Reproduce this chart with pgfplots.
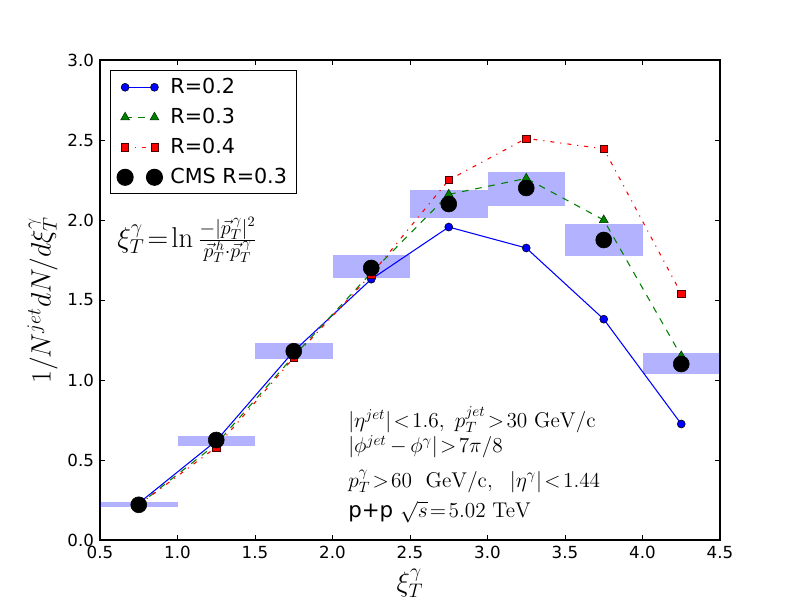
\RequirePackage{fix-cm}
\documentclass[border=0pt]{standalone}
\usepackage[no-math]{fontspec}
\setmainfont{DejaVu Sans}
\usepackage{pgfplots}
\pgfplotsset{compat=1.18}
\definecolor{mplgreen}{rgb}{0,0.5,0}
\thickmuskip=2mu plus 1mu
\medmuskip=3mu plus 1mu
\begin{document}
\begin{tikzpicture}
\useasboundingbox (0,0) rectangle (600pt,450pt);
\begin{axis}[
  at={(75pt,45pt)}, anchor=south west,
  scale only axis, width=465pt, height=360pt,
  xmin=0.5, xmax=4.5, ymin=0, ymax=3.0,
  xtick={0.5,1.0,...,4.5}, ytick={0,0.5,...,3.0},
  axis line style={line width=0.8pt},
  major tick length=4pt,
  every tick/.style={black, line width=0.6pt},
  tick align=inside,
  minor tick num=0,
  /pgf/number format/assume math mode=true,
  /pgf/number format/.cd, fixed, fixed zerofill, precision=1, /pgfplots/.cd,
  ticklabel style={font=\fontsize{12.5}{15}\selectfont},
  xticklabel style={yshift=-1pt},
  yticklabel style={xshift=-1pt},
  xlabel={$\xi_T^\gamma$},
  ylabel={$1/N^{jet}dN/d\xi_T^\gamma$},
  xlabel style={at={(axis description cs:0.5,-0.090)}, anchor=center, font=\fontsize{21}{25}\selectfont},
  ylabel style={at={(axis description cs:-0.0925,0.5)}, anchor=center, font=\fontsize{21}{25}\selectfont},
  legend image code/.code={\draw[mark repeat=2,mark phase=1,#1] plot coordinates {(0pt,0pt) (11pt,0pt) (22pt,0pt)};},
  legend style={at={(axis description cs:0.016,0.979)}, anchor=north west,
    draw=black, line width=0.8pt, font=\fontsize{15.5}{18}\selectfont,
    inner xsep=5pt, inner ysep=4pt, row sep=5.5pt, column sep=4pt,
    nodes={line width=0.6pt}},
  legend cell align=left,
]
% CMS systematic boxes
\addplot[fill=blue, fill opacity=0.3, draw=none, forget plot] coordinates {(0.5,0.205) (1.0,0.205) (1.0,0.24) (0.5,0.24)} -- cycle;
\addplot[fill=blue, fill opacity=0.3, draw=none, forget plot] coordinates {(1.0,0.59) (1.5,0.59) (1.5,0.65) (1.0,0.65)} -- cycle;
\addplot[fill=blue, fill opacity=0.3, draw=none, forget plot] coordinates {(1.5,1.13) (2.0,1.13) (2.0,1.23) (1.5,1.23)} -- cycle;
\addplot[fill=blue, fill opacity=0.3, draw=none, forget plot] coordinates {(2.0,1.64) (2.5,1.64) (2.5,1.78) (2.0,1.78)} -- cycle;
\addplot[fill=blue, fill opacity=0.3, draw=none, forget plot] coordinates {(2.5,2.01) (3.0,2.01) (3.0,2.19) (2.5,2.19)} -- cycle;
\addplot[fill=blue, fill opacity=0.3, draw=none, forget plot] coordinates {(3.0,2.09) (3.5,2.09) (3.5,2.30) (3.0,2.30)} -- cycle;
\addplot[fill=blue, fill opacity=0.3, draw=none, forget plot] coordinates {(3.5,1.775) (4.0,1.775) (4.0,1.975) (3.5,1.975)} -- cycle;
\addplot[fill=blue, fill opacity=0.3, draw=none, forget plot] coordinates {(4.0,1.04) (4.5,1.04) (4.5,1.17) (4.0,1.17)} -- cycle;
% R=0.2
\addplot[blue, line width=0.8pt, mark=*, mark size=3pt, mark options={fill=blue, draw=black, line width=0.4pt, solid}]
 coordinates {(0.75,0.23) (1.25,0.62) (1.75,1.18) (2.25,1.63) (2.75,1.956) (3.25,1.825) (3.75,1.38) (4.25,0.725)};
\addlegendentry{R=0.2}
% R=0.3
\addplot[mplgreen, line width=0.8pt, dash pattern=on 5pt off 5pt, mark=triangle*, mark size=3.8pt, mark options={fill=mplgreen, draw=black!60!mplgreen, line width=0.4pt, solid}]
 coordinates {(0.75,0.22) (1.25,0.60) (1.75,1.15) (2.25,1.67) (2.75,2.16) (3.25,2.26) (3.75,2.0) (4.25,1.15)};
\addlegendentry{R=0.3}
% R=0.4
\addplot[red, line width=0.8pt, dash pattern=on 3pt off 4.5pt on 0.8pt off 4.5pt, mark=square*, mark size=2.7pt, mark options={fill=red, draw=black!70!red, line width=0.4pt, solid}]
 coordinates {(0.75,0.22) (1.25,0.58) (1.75,1.14) (2.25,1.66) (2.75,2.25) (3.25,2.51) (3.75,2.445) (4.25,1.54)};
\addlegendentry{R=0.4}
% CMS
\addplot[only marks, mark=*, mark size=6pt, mark options={fill=black, draw=black}]
 coordinates {(0.75,0.22) (1.25,0.625) (1.75,1.18) (2.25,1.70) (2.75,2.10) (3.25,2.20) (3.75,1.875) (4.25,1.10)};
\addlegendentry{CMS R=0.3}
% annotations
\node[anchor=base west, inner sep=0pt, font=\fontsize{21.5}{25}\selectfont] at (axis cs:0.61,1.83) {$\xi_T^\gamma = \ln\frac{-|\vec{p}_T^{\,\gamma}|^2}{\vec{p}_T^{\,h}\cdot\vec{p}_T^{\,\gamma}}$};
\node[anchor=base west, inner sep=0pt, font=\fontsize{16}{19}\selectfont] at (axis cs:2.10,0.706) {$|\eta^{jet}|<1.6,\ p_T^{jet}>30\ \mathrm{GeV/c}$};
\node[anchor=base west, inner sep=0pt, font=\fontsize{16}{19}\selectfont] at (axis cs:2.10,0.544) {$|\phi^{jet}-\phi^{\gamma}|>7\pi/8$};
\node[anchor=base west, inner sep=0pt, font=\fontsize{16}{19}\selectfont] at (axis cs:2.10,0.33) {$p_T^\gamma>60\ \ \mathrm{GeV/c},\ \ |\eta^\gamma|<1.44$};
\node[anchor=base west, inner sep=0pt, font=\fontsize{16}{19}\selectfont] at (axis cs:2.10,0.1375) {p+p $\sqrt{s}=5.02\ \mathrm{TeV}$};
\end{axis}
\end{tikzpicture}
\end{document}
